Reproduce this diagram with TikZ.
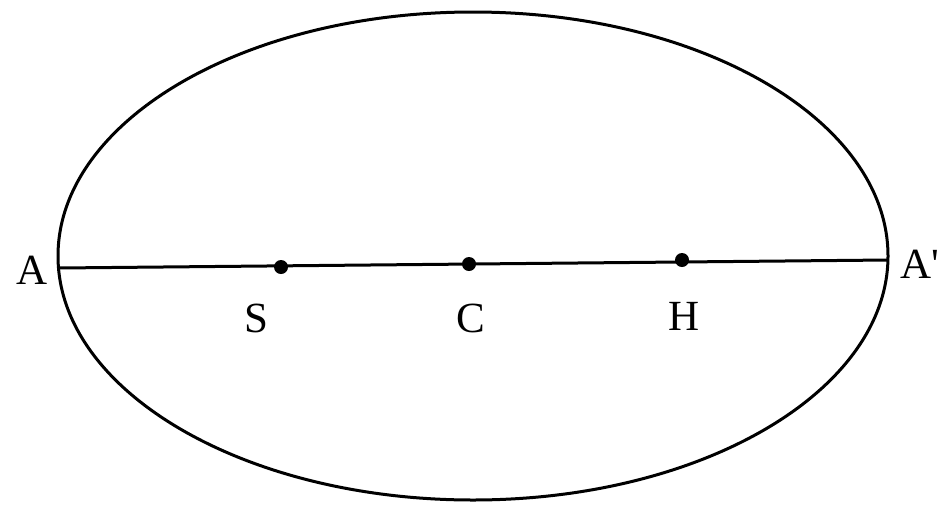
\documentclass[tikz,border=0pt]{standalone}
\usetikzlibrary{shapes.geometric}
\usepackage{fontspec}
\setmainfont{Liberation Serif}
\begin{document}
\begin{tikzpicture}[x=1pt,y=-1pt,line width=3pt,
  pt/.style={circle,fill=black,inner sep=0pt,minimum size=14pt},
  lbl/.style={font=\fontsize{43}{50}\selectfont,inner sep=0pt}]
\useasboundingbox (0,0) rectangle (947,504);
\node[draw,ellipse,line width=3pt,minimum width=830pt,minimum height=488pt,inner sep=0pt] (E) at (473,256) {};
\coordinate (A1) at (59,268);
\coordinate (A2) at (888,260);
\node[pt] (S) at (281,267) {};
\node[pt] (C) at (469,264) {};
\node[pt] (H) at (682,260) {};
\draw (A1) -- (A2);
\node[lbl] (lA) at (32,270) {A};
\node[lbl] (lA2) at (920,264) {A\textquotesingle};
\node[lbl] (lS) at (256,318) {S};
\node[lbl] (lC) at (471,318) {C};
\node[lbl] (lH) at (684,316) {H};
\end{tikzpicture}
\end{document}
